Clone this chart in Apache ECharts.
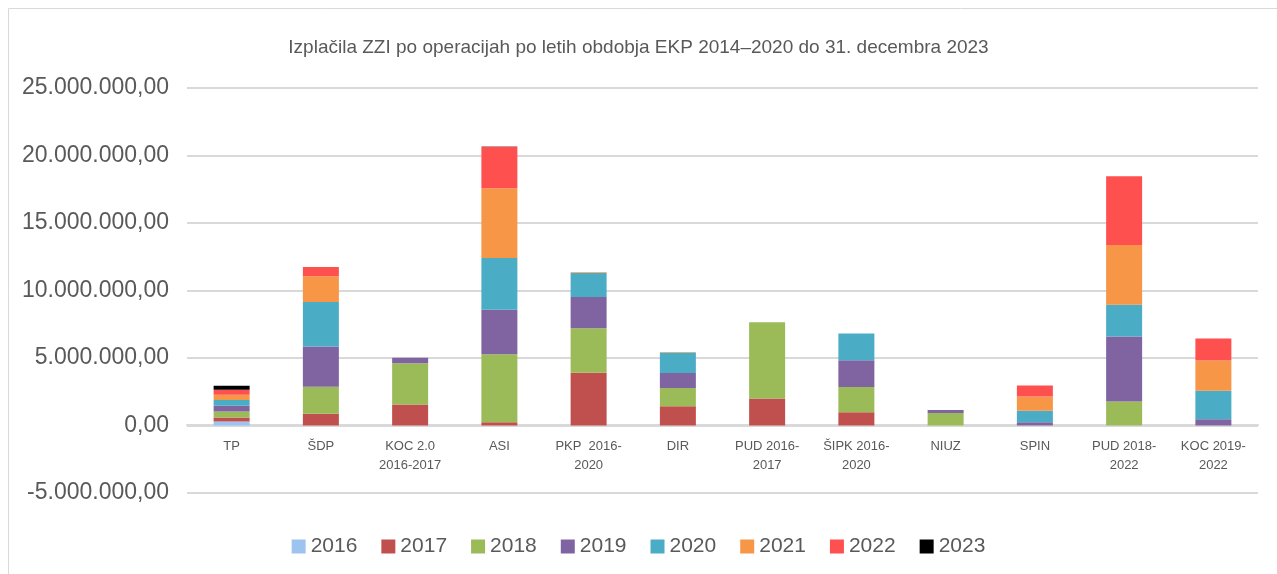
<!DOCTYPE html>
<html>
<head>
<meta charset="utf-8">
<script src="https://cdn.jsdelivr.net/npm/echarts@6/dist/echarts.min.js"></script>
<style>
html,body{margin:0;padding:0;background:#fff;}
#chart{width:1277px;height:574px;}
</style>
</head>
<body>
<div id="chart"></div>
<script>
const categories = ["TP","ŠDP","KOC 2.0\n2016-2017","ASI","PKP  2016-\n2020","DIR","PUD 2016-\n2017","ŠIPK 2016-\n2020","NIUZ","SPIN","PUD 2018-\n2022","KOC 2019-\n2022"];
const years = ["2016","2017","2018","2019","2020","2021","2022","2023"];
const v2016 = [300000,0,0,0,0,0,0,0,0,0,0,0];
const v2017 = [300000,870000,1550000,250000,3900000,1430000,2000000,990000,0,0,0,0];
const v2018 = [440000,2000000,3060000,5020000,3310000,1340000,5640000,1860000,930000,0,1780000,0];
const v2019 = [420000,2990000,400000,3300000,2300000,1110000,0,1980000,220000,250000,4820000,470000];
const v2020 = [420000,3290000,0,3830000,1780000,1520000,0,1980000,0,840000,2350000,2100000];
const v2021 = [400000,1900000,0,5170000,70000,40000,0,0,0,1060000,4420000,2250000];
const v2022 = [370000,690000,0,3070000,0,0,0,0,0,820000,5100000,1630000];
const v2023 = [300000,0,0,20000,0,0,0,0,0,0,0,0];
const seriesValues = [v2016,v2017,v2018,v2019,v2020,v2021,v2022,v2023];
const colors = ["#9DC3F0","#C0504D","#9BBB59","#8064A2","#4BACC6","#F79646","#FF5050","#000000"];

function fmt(v){
  const neg = v < 0;
  let s = Math.abs(Math.round(v)).toString().replace(/\B(?=(\d{3})+(?!\d))/g, ".");
  return (neg ? "-" : "") + s + ",00";
}

const chart = echarts.init(document.getElementById('chart'));
chart.setOption({
  animation:false,
  textStyle:{fontFamily:"Liberation Sans, Arial, sans-serif"},
  graphic:[{type:'rect',silent:true,shape:{x:8.5,y:8.5,width:1300,height:600},style:{fill:'none',stroke:'#d9d9d9',lineWidth:1}}],
  title:{text:"Izplačila ZZI po operacijah po letih obdobja EKP 2014–2020 do 31. decembra 2023",left:'center',top:33,
    textStyle:{fontSize:19,fontWeight:'normal',color:'#595959',fontFamily:"Liberation Sans, Arial, sans-serif"}},
  legend:{bottom:12,left:'center',itemWidth:14,itemHeight:14,itemGap:24,icon:'rect',
    textStyle:{fontSize:21,color:'#595959'},data:years},
  grid:{left:187,right:19,top:88,bottom:81,containLabel:false},
  xAxis:{type:'category',data:categories,offset:-68,
    axisLine:{onZero:false,lineStyle:{color:'#d9d9d9',width:2}},
    axisTick:{show:false},
    axisLabel:{fontSize:13,color:'#595959',lineHeight:19,margin:12,interval:0}},
  yAxis:{type:'value',min:-5000000,max:25000000,interval:5000000,
    axisLine:{show:false},axisTick:{show:false},
    splitLine:{lineStyle:{color:'#d9d9d9',width:2}},
    axisLabel:{fontSize:23,color:'#595959',margin:18,formatter:fmt}},
  series: years.map((y,i)=>({
    name:y,type:'bar',stack:'total',barWidth:36,
    itemStyle:{color:colors[i]},
    data:seriesValues[i]
  }))
});
</script>
</body>
</html>
